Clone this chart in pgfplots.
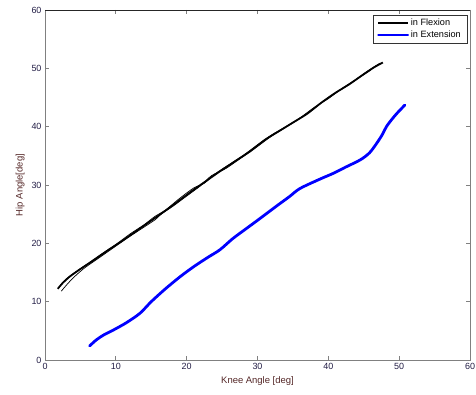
\documentclass[border=0pt]{standalone}
\usepackage{fontspec}
\setmainfont{Liberation Sans}
\usepackage{pgfplots}
\pgfplotsset{compat=1.18}

\definecolor{framegray}{RGB}{128,128,128}
\definecolor{ticktext}{RGB}{35,30,70}
\definecolor{labeltext}{RGB}{85,40,40}
\definecolor{extblue}{RGB}{0,0,255}

\begin{document}
\begin{tikzpicture}
\begin{axis}[
  scale only axis, width=425bp, height=350bp,
  xmin=0, xmax=60, ymin=0, ymax=60,
  xtick={0,10,...,60}, ytick={0,10,...,60},
  tick align=inside, major tick length=4bp,
  axis line style={framegray, line width=0.9pt},
  every tick/.style={framegray, line width=0.8pt},
  tick label style={font=\fontsize{9}{10}\selectfont, text=ticktext},
  /pgf/number format/assume math mode=true,
  xlabel={Knee Angle [deg]}, ylabel={Hip Angle[deg]},
  label style={font=\fontsize{9.5}{11}\selectfont, text=labeltext},
  legend cell align=left,
  legend style={at={(0.993,0.986)}, anchor=north east, draw=black!80,
    font=\fontsize{9.2}{10.5}\selectfont, inner xsep=4pt, inner ysep=2pt},
  legend image code/.code={\draw[#1, line width=1.6pt] (0bp,0bp) -- (30bp,0bp);},
]
% flexion: main trace
\addplot[black, line width=1.8pt, line join=round, smooth, tension=0.4]
  coordinates {
 (1.8,12.2) (2.5,13.2) (3.5,14.3) (5,15.6) (7,17.2) (9,18.9) (11,20.5)
 (13,22.2) (15,23.9) (17,25.6) (19,27.4) (21,29.2) (23,30.9) (25,32.6)
 (27,34.2) (29,35.8) (31,37.7) (33,39.2) (35,40.7) (37,42.2) (39,44.1)
 (41,45.8) (43,47.3) (45,49.0) (46.5,50.2) (47.7,51.0)
};
% extension
\addplot[extblue, line width=2.8pt, line join=round, line cap=round, smooth, tension=0.5]
  coordinates {
 (6.3,2.4) (7.2,3.4) (8.3,4.3) (9.6,5.1) (11.5,6.4) (13.4,8.0) (15,10.0)
 (17,12.2) (19.1,14.3) (21,16.0) (23,17.6) (24.7,18.9) (26.5,20.8)
 (28.5,22.6) (30.4,24.3) (32.7,26.4) (34.5,28.0) (36,29.4) (38.8,31.0)
 (40.7,32.0) (42.5,33.1) (44.5,34.3) (45.8,35.5) (46.8,37.1) (47.6,38.6)
 (48.2,40.0) (49,41.3) (49.7,42.3) (50.8,43.7)
};
\legend{in Flexion, in Extension}

% flexion: repeated cycles
\addplot[black, line width=0.7pt, forget plot, smooth, tension=0.4] coordinates {
 (2.3,11.8) (3.0,12.8) (4.0,14.1) (5.5,15.7) (7.5,17.4) (9.5,19.1)
 (11.5,20.8) (13.5,22.4) (15.5,24.0) (16.5,25.1) (18,26.3) (20,28.1)
 (22,29.9) (23.5,31.6) (25.5,32.8) (28,34.9) (30,36.6) (32,38.4)
 (34,39.9) (36,41.4) (38,43.1) (40,45.0) (42,46.5) (44,48.1) (46,49.7)
};
\addplot[black, line width=0.7pt, forget plot, smooth, tension=0.4] coordinates {
 (2.1,12.7) (3.0,13.9) (4.2,15.0) (6,16.5) (8,18.2) (10,19.8) (12,21.6)
 (14,23.2) (15.5,24.6) (17,25.7) (19,27.7) (21,29.5) (22.5,30.3)
 (24,31.9) (26,33.5) (28,35.1) (30,36.9) (32,38.6) (34,40.0) (36,41.5)
 (38,43.3) (40,44.8) (42,46.6) (44,48.2) (46,49.9) (47.3,50.9)
};

% darker top edge of the frame
\draw[black!85, line width=0.6pt] (rel axis cs:0,1) -- (rel axis cs:1,1);
\end{axis}
\pgfresetboundingbox
\path[use as bounding box] ([xshift=-45bp,yshift=-35bp]current axis.south west)
  rectangle ([xshift=6bp,yshift=10bp]current axis.north east);
\end{tikzpicture}
\end{document}
